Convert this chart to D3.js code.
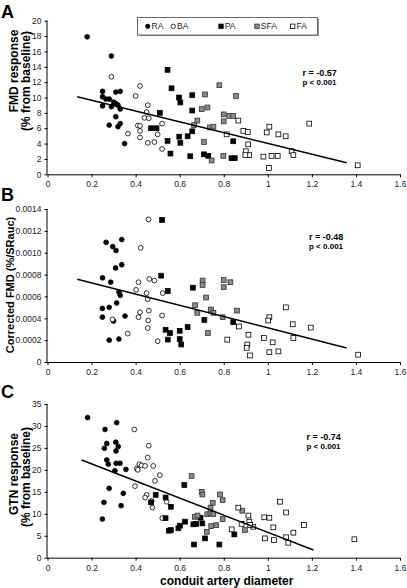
<!DOCTYPE html>
<html>
<head>
<meta charset="utf-8">
<script src="https://cdn.jsdelivr.net/npm/d3@7"></script>
<style>
  html, body { margin: 0; padding: 0; background: #fff; }
  svg { display: block; font-family: "Liberation Sans", Arial, sans-serif; }
</style>
</head>
<body>
<svg id="chart" width="407" height="588"></svg>
<script>
// ---------- DATA ----------
const seriesNames = ["RA", "BA", "PA", "SFA", "FA"];
const xTickValues = [0, 0.2, 0.4, 0.6, 0.8, 1, 1.2, 1.4, 1.6];

// Panel A: FMD response (% from baseline)
const fmdTicks = [0, 2, 4, 6, 8, 10, 12, 14, 16, 18, 20];
const fmdRA = [[0.18,17.9],[0.29,15.4],[0.25,10.8],[0.31,10.7],[0.33,10.8],[0.25,10.1],[0.265,9.8],[0.28,9.8],[0.25,8.9],[0.29,8.8],[0.30,9.4],[0.31,9.2],[0.32,9.0],[0.33,8.5],[0.31,7.5],[0.28,6.4],[0.32,6.2],[0.33,6.6],[0.35,4.0]];
const fmdBA = [[0.29,12.7],[0.42,11.5],[0.40,10.2],[0.455,9.0],[0.45,8.1],[0.44,7.35],[0.46,7.3],[0.41,6.35],[0.42,6.3],[0.52,6.6],[0.365,5.3],[0.42,5.65],[0.42,4.8],[0.50,5.2],[0.455,4.1],[0.485,4.2],[0.52,3.3]];
const fmdPA = [[0.545,13.6],[0.563,11.2],[0.597,10.0],[0.603,9.35],[0.657,10.3],[0.51,8.0],[0.657,8.3],[0.47,6.0],[0.495,6.0],[0.545,4.35],[0.558,2.7],[0.598,4.9],[0.603,4.1],[0.636,4.95],[0.657,5.6],[0.648,2.35],[0.71,2.6],[0.73,2.4],[0.843,4.3],[0.835,2.1],[0.85,2.1]];
const fmdSFA = [[0.715,10.4],[0.70,8.5],[0.726,8.7],[0.68,7.0],[0.665,6.4],[0.71,4.2],[0.78,11.6],[0.856,10.2],[0.80,7.8],[0.825,7.6],[0.843,7.6],[0.80,6.9],[0.737,6.1],[0.753,6.2],[0.798,2.4],[0.745,1.8]];
const fmdFA = [[0.866,7.0],[0.889,5.65],[0.909,5.5],[0.813,5.2],[1.007,6.2],[0.995,5.45],[1.048,5.2],[1.081,4.95],[0.911,3.9],[0.90,3.0],[0.916,2.5],[0.898,2.5],[0.98,2.3],[1.017,2.4],[1.045,2.4],[1.005,0.83],[1.108,3.0],[1.116,2.5],[1.188,6.6],[1.408,1.17]];
const fmdFit = [[0.135,10.1],[1.358,1.5]];

// Panel B: Corrected FMD (%/SRauc)
const corrTicks = [0, 0.0002, 0.0004, 0.0006, 0.0008, 0.0010, 0.0012, 0.0014];
const corrRA = [[0.266,0.001095],[0.296,0.001056],[0.311,0.00102],[0.337,0.00112],[0.309,0.00086],[0.337,0.00089],[0.25,0.00077],[0.287,0.00073],[0.324,0.00064],[0.33,0.00061],[0.314,0.00054],[0.249,0.00049],[0.28,0.0005],[0.249,0.00041],[0.30,0.000375],[0.352,0.00042],[0.28,0.0002],[0.324,0.00021]];
const corrBA = [[0.458,0.001305],[0.423,0.001045],[0.413,0.00073],[0.462,0.00076],[0.485,0.000745],[0.402,0.00066],[0.45,0.00063],[0.523,0.00063],[0.455,0.000575],[0.42,0.000455],[0.46,0.00047],[0.413,0.00041],[0.52,0.000425],[0.457,0.00038],[0.455,0.00031],[0.50,0.00019],[0.364,0.00026],[0.295,0.00039]];
const corrPA = [[0.52,0.0013],[0.516,0.00079],[0.546,0.00065],[0.66,0.00068],[0.536,0.000295],[0.556,0.000265],[0.60,0.000285],[0.546,0.000205],[0.60,0.00021],[0.607,0.00016],[0.636,0.00032],[0.712,0.000385],[0.843,0.000365]];
const corrSFA = [[0.704,0.000745],[0.704,0.000705],[0.80,0.00075],[0.80,0.000685],[0.83,0.00073],[0.72,0.00059],[0.67,0.00052],[0.68,0.00045],[0.742,0.00048],[0.753,0.00045],[0.86,0.00047],[0.795,0.00041],[0.728,0.000265]];
const corrFA = [[1.082,0.0005],[1.007,0.00041],[1.002,0.00038],[0.869,0.000325],[1.113,0.000345],[1.195,0.000315],[0.912,0.00025],[0.816,0.000205],[0.982,0.00022],[1.022,0.00018],[1.116,0.00022],[0.907,0.00016],[0.904,0.00013],[0.919,0.00006],[1.007,0.00009],[1.048,0.000097],[1.41,0.000067]];
const corrFit = [[0.135,0.000758],[1.358,0.000128]];

// Panel C: GTN response (% from baseline)
const gtnTicks = [0, 5, 10, 15, 20, 25, 30, 35];
const gtnRA = [[0.182,31.9],[0.261,29.2],[0.314,30.75],[0.269,26.0],[0.31,26.3],[0.258,24.9],[0.321,25.3],[0.311,24.3],[0.269,22.25],[0.276,21.3],[0.311,21.5],[0.329,21.5],[0.306,19.8],[0.356,20.1],[0.28,15.8],[0.344,14.65],[0.256,12.6],[0.334,11.85],[0.249,8.8]];
const gtnBA = [[0.394,29.2],[0.46,25.5],[0.455,22.8],[0.417,21.3],[0.427,21.0],[0.443,20.9],[0.405,20.3],[0.41,20.0],[0.48,20.9],[0.51,18.8],[0.488,17.5],[0.397,16.3],[0.45,14.3],[0.443,13.7],[0.473,12.9],[0.541,12.75],[0.476,11.4],[0.521,9.0]];
const gtnPA = [[0.621,16.55],[0.491,14.3],[0.536,13.7],[0.47,12.6],[0.56,11.6],[0.536,9.0],[0.624,8.2],[0.601,7.3],[0.594,6.7],[0.551,6.15],[0.56,6.3],[0.662,7.6],[0.674,7.7],[0.695,9.1],[0.703,7.8],[0.665,3.0],[0.715,4.4],[0.78,3.0],[0.848,5.3]];
const gtnSFA = [[0.654,18.6],[0.70,15.0],[0.703,14.4],[0.783,14.4],[0.75,12.5],[0.795,13.1],[0.74,11.4],[0.669,9.3],[0.681,9.6],[0.725,9.9],[0.74,10.1],[0.753,9.95],[0.795,8.8],[0.743,7.2],[0.766,7.4],[0.723,5.9],[0.884,10.7],[0.896,6.3]];
const gtnFA = [[0.866,11.4],[1.055,12.75],[0.912,9.6],[0.984,9.2],[1.007,9.1],[1.083,10.3],[0.916,8.2],[0.934,7.05],[0.881,7.7],[0.836,6.45],[1.025,6.9],[1.164,7.45],[1.116,5.7],[0.987,4.4],[1.028,4.0],[1.083,4.65],[1.093,3.4],[1.393,4.2],[0.92,7.45]];
const gtnFit = [[0.155,22.25],[1.207,1.75]];

// ---------- LAYOUT / STYLE ----------
const svg = d3.select("#chart");
const X0 = 47.5, X1 = 400;
const x = d3.scaleLinear().domain([0, 1.6]).range([X0, X1]);

const styles = {
  RA:  {shape: "circle", fill: "#000", stroke: "#000"},
  BA:  {shape: "circle", fill: "#fff", stroke: "#000"},
  PA:  {shape: "square", fill: "#000", stroke: "#000"},
  SFA: {shape: "square", fill: "#8a8a8a", stroke: "#333"},
  FA:  {shape: "square", fill: "#fff", stroke: "#000"}
};

const panels = [
  {letter: "A", letterY: 18, top: 20.7, bottom: 174.3, max: 20, ticks: fmdTicks, fmt: d => String(d),
   series: [fmdRA, fmdBA, fmdPA, fmdSFA, fmdFA], fit: fmdFit,
   title: ["FMD response", "(% from baseline)"], titleSize: 12, titleCy: [71, 81],
   r: "r = -0.57", rx: 302.5, ry: 75.5},
  {letter: "B", letterY: 201, top: 209, bottom: 362, max: 0.0014, ticks: corrTicks, fmt: d => d === 0 ? "0" : d.toFixed(4),
   series: [corrRA, corrBA, corrPA, corrSFA, corrFA], fit: corrFit,
   title: ["Corrected FMD (%/SRauc)"], titleSize: 11, titleCy: [285],
   r: "r = -0.48", rx: 309, ry: 240},
  {letter: "C", letterY: 398, top: 404, bottom: 557.7, max: 35, ticks: gtnTicks, fmt: d => String(d),
   series: [gtnRA, gtnBA, gtnPA, gtnSFA, gtnFA], fit: gtnFit,
   title: ["GTN response", "(% from baseline)"], titleSize: 12, titleCy: [474, 477],
   r: "r = -0.74", rx: 306.5, ry: 440}
];

function drawMarker(g, name, px, py, size) {
  const s = styles[name];
  if (s.shape === "circle") {
    g.append("circle").attr("cx", px).attr("cy", py).attr("r", size / 2)
      .attr("fill", s.fill).attr("stroke", s.stroke).attr("stroke-width", 0.8);
  } else {
    g.append("rect").attr("x", px - size / 2).attr("y", py - size / 2)
      .attr("width", size).attr("height", size)
      .attr("fill", s.fill).attr("stroke", s.stroke).attr("stroke-width", 0.8);
  }
}

panels.forEach(p => {
  const y = d3.scaleLinear().domain([0, p.max]).range([p.bottom, p.top]);
  const g = svg.append("g");

  // panel letter
  g.append("text").attr("x", 1).attr("y", p.letterY).text(p.letter)
    .attr("font-size", 18).attr("font-weight", "bold").attr("fill", "#000");

  // y axis
  const ya = d3.axisLeft(y).tickValues(p.ticks).tickFormat(p.fmt).tickSize(3).tickPadding(3);
  const yg = g.append("g").attr("transform", `translate(${X0},0)`).call(ya);
  // x axis
  const xa = d3.axisBottom(x).tickValues(xTickValues).tickFormat(d => String(d)).tickSize(3).tickPadding(4);
  const xg = g.append("g").attr("transform", `translate(0,${p.bottom})`).call(xa);
  [yg, xg].forEach(a => {
    a.select(".domain").attr("stroke", "#000").attr("stroke-width", 1);
    a.selectAll(".tick line").attr("stroke", "#000");
    a.selectAll(".tick text").attr("font-size", 8.5).attr("fill", "#222")
      .attr("font-family", "Liberation Sans, Arial, sans-serif");
  });
  yg.select(".domain").attr("d", `M-0.5,${p.bottom}V${p.top}`);
  xg.select(".domain").attr("d", `M${X0},0.5H${X1}`);

  // y title
  const baseXs = p.title.length === 2 ? [17.5, 29.5] : [14];
  p.title.forEach((t, i) => {
    g.append("text").attr("transform", `translate(${baseXs[i]},${p.titleCy[i]}) rotate(-90)`)
      .attr("text-anchor", "middle").attr("font-size", p.titleSize).attr("font-weight", "bold")
      .attr("fill", "#000").text(t);
  });

  // points
  const pg = g.append("g");
  p.series.forEach((arr, si) => {
    const name = seriesNames[si];
    arr.forEach(d => drawMarker(pg, name, x(d[0]), y(d[1]), 4.8));
  });

  // fit line
  const line = d3.line().x(d => x(d[0])).y(d => y(d[1]));
  g.append("path").datum(p.fit).attr("d", line).attr("fill", "none")
    .attr("stroke", "#000").attr("stroke-width", 1.5);

  // stats text
  g.append("text").attr("x", p.rx).attr("y", p.ry).text(p.r)
    .attr("font-size", 9).attr("font-weight", "bold").attr("fill", "#000");
  g.append("text").attr("x", p.rx).attr("y", p.ry + 9).text("p < 0.001")
    .attr("font-size", 8).attr("font-weight", "bold").attr("fill", "#000");
});

// x axis title
svg.append("text").attr("x", (X0 + X1) / 2 + 3).attr("y", 584.5).attr("text-anchor", "middle")
  .attr("font-size", 12).attr("font-weight", "bold").attr("fill", "#000").text("conduit artery diameter");

// legend
const legend = svg.append("g");
legend.append("rect").attr("x", 139).attr("y", 18.5).attr("width", 180).attr("height", 17.5).attr("fill", "#999");
legend.append("rect").attr("x", 137.5).attr("y", 17.5).attr("width", 180).attr("height", 17.5)
  .attr("fill", "#fff").attr("stroke", "#444").attr("stroke-width", 0.8);
const legendX = [147.7, 173.3, 221, 257, 292.7];
seriesNames.forEach((n, i) => {
  drawMarker(legend, n, legendX[i], 26.3, 4.4);
  legend.append("text").attr("x", legendX[i] + 3.8).attr("y", 29.3).text(n)
    .attr("font-size", 8.5).attr("fill", "#222");
});
</script>
</body>
</html>
